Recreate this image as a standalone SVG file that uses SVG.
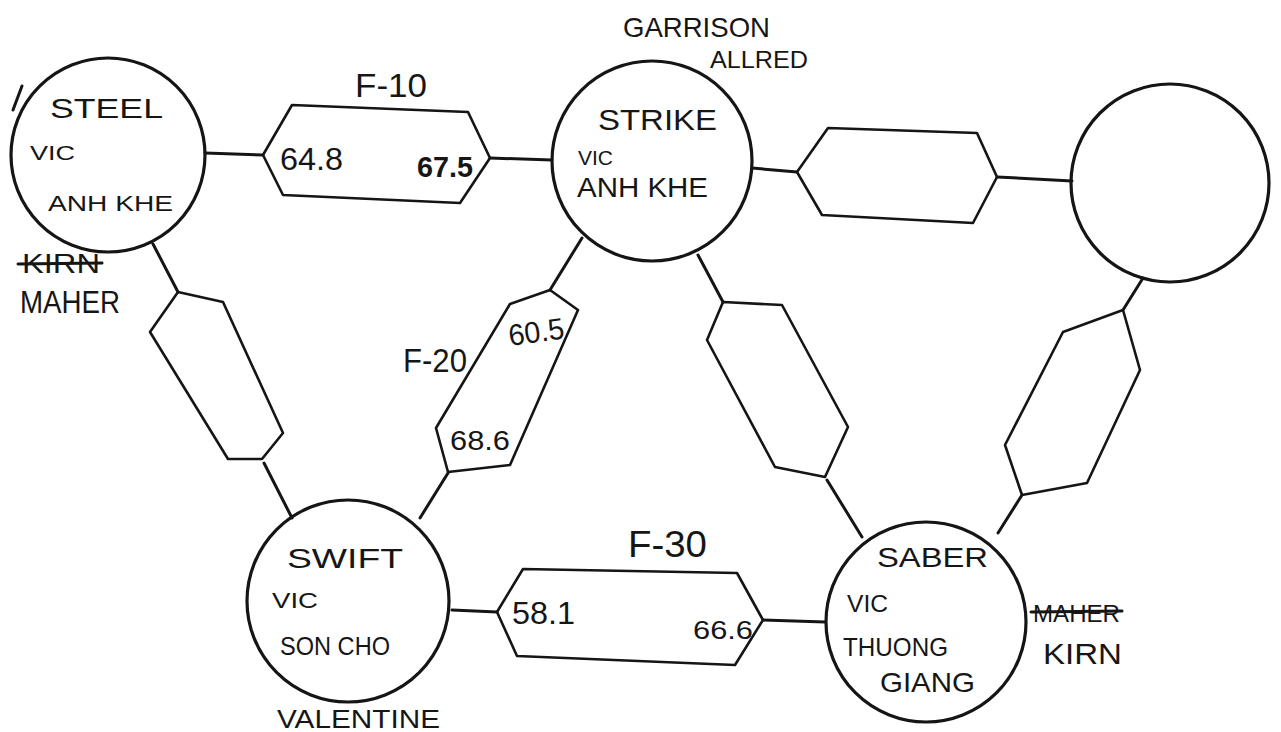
<svg xmlns="http://www.w3.org/2000/svg" width="1281" height="732" viewBox="0 0 1281 732">
<style>
.c{fill:none;stroke:#151515;stroke-width:3.2;}
.h{fill:none;stroke:#151515;stroke-width:2.6;stroke-linejoin:round;}
.l{stroke:#151515;stroke-width:3;stroke-linecap:round;}
.t{font-family:"Liberation Sans","DejaVu Sans",sans-serif;fill:#161616;}
.k{stroke:#161616;stroke-width:3;stroke-linecap:round;}
</style>
<rect width="1281" height="732" fill="#ffffff"/>
<g id="connectors">
<line class="l" x1="205" y1="153" x2="263" y2="155"/>
<line class="l" x1="490" y1="158" x2="552" y2="160"/>
<line class="l" x1="752" y1="168" x2="797" y2="172"/>
<line class="l" x1="997" y1="177" x2="1072" y2="181"/>
<line class="l" x1="153" y1="244" x2="178" y2="292"/>
<line class="l" x1="264" y1="463" x2="292" y2="518"/>
<line class="l" x1="582" y1="238" x2="550" y2="290"/>
<line class="l" x1="448" y1="473" x2="420" y2="518"/>
<line class="l" x1="698" y1="255" x2="723" y2="302"/>
<line class="l" x1="827" y1="480" x2="862" y2="537"/>
<line class="l" x1="1143" y1="278" x2="1123" y2="310"/>
<line class="l" x1="1022" y1="495" x2="998" y2="533"/>
<line class="l" x1="452" y1="610" x2="497" y2="612"/>
<line class="l" x1="763" y1="620" x2="825" y2="622"/>
</g>
<g id="link-f10">
<polygon class="h" points="263,155 292,105 468,112 490,158 460,203 283,195"/>
<text class="t" x="355" y="97" font-size="34" textLength="72" lengthAdjust="spacingAndGlyphs">F-10</text>
<text class="t" x="280" y="170" font-size="32" textLength="63" lengthAdjust="spacingAndGlyphs">64.8</text>
<text class="t" x="417" y="177" font-size="30" font-weight="bold" textLength="56" lengthAdjust="spacingAndGlyphs">67.5</text>
</g>
<g id="link-strike-east">
<polygon class="h" points="797,172 828,128 977,133 997,177 973,223 822,215"/>
</g>
<g id="link-steel-swift">
<polygon class="h" points="178,292 223,302 283,433 262,459 228,459 150,332"/>
</g>
<g id="link-f20">
<polygon class="h" points="550,290 578,310 510,465 448,472 436,428 510,304"/>
<text class="t" x="403" y="372" font-size="34" textLength="64" lengthAdjust="spacingAndGlyphs">F-20</text>
<text class="t" x="510" y="346" font-size="30" textLength="56" lengthAdjust="spacingAndGlyphs" transform="rotate(-8 510 346)">60.5</text>
<text class="t" x="450" y="450" font-size="28" textLength="60" lengthAdjust="spacingAndGlyphs">68.6</text>
</g>
<g id="link-strike-saber">
<polygon class="h" points="723,302 782,305 848,427 825,477 775,467 707,340"/>
</g>
<g id="link-east-saber">
<polygon class="h" points="1123,310 1140,370 1087,483 1022,495 1005,445 1063,332"/>
</g>
<g id="link-f30">
<polygon class="h" points="497,612 523,569 737,573 763,620 735,665 517,656"/>
<text class="t" x="628" y="557" font-size="36" textLength="79" lengthAdjust="spacingAndGlyphs">F-30</text>
<text class="t" x="512" y="624" font-size="32" textLength="63" lengthAdjust="spacingAndGlyphs">58.1</text>
<text class="t" x="693" y="639" font-size="26" textLength="60" lengthAdjust="spacingAndGlyphs">66.6</text>
</g>
<g id="node-steel">
<circle class="c" cx="108" cy="155" r="97"/>
<line class="k" x1="13" y1="110" x2="22" y2="86"/>
<text class="t" x="50" y="118" font-size="27" textLength="113" lengthAdjust="spacingAndGlyphs">STEEL</text>
<text class="t" x="30" y="160" font-size="21" textLength="45" lengthAdjust="spacingAndGlyphs">VIC</text>
<text class="t" x="48" y="211" font-size="22" textLength="125" lengthAdjust="spacingAndGlyphs">ANH KHE</text>
<text class="t" x="22" y="273" font-size="28" textLength="78" lengthAdjust="spacingAndGlyphs">KIRN</text>
<line class="k" x1="18" y1="264" x2="102" y2="263"/>
<text class="t" x="20" y="313" font-size="31" textLength="100" lengthAdjust="spacingAndGlyphs">MAHER</text>
</g>
<g id="node-strike">
<circle class="c" cx="652" cy="161" r="100"/>
<text class="t" x="623" y="37" font-size="28" textLength="147" lengthAdjust="spacingAndGlyphs">GARRISON</text>
<text class="t" x="710" y="68" font-size="24" textLength="98" lengthAdjust="spacingAndGlyphs">ALLRED</text>
<text class="t" x="598" y="130" font-size="29" textLength="119" lengthAdjust="spacingAndGlyphs">STRIKE</text>
<text class="t" x="578" y="165" font-size="20" textLength="35" lengthAdjust="spacingAndGlyphs">VIC</text>
<text class="t" x="577" y="197" font-size="27" textLength="131" lengthAdjust="spacingAndGlyphs">ANH KHE</text>
</g>
<g id="node-east">
<circle class="c" cx="1170" cy="183" r="99"/>
</g>
<g id="node-swift">
<circle class="c" cx="348" cy="601" r="101"/>
<text class="t" x="287" y="568" font-size="28" textLength="116" lengthAdjust="spacingAndGlyphs">SWIFT</text>
<text class="t" x="272" y="608" font-size="22" textLength="46" lengthAdjust="spacingAndGlyphs">VIC</text>
<text class="t" x="280" y="655" font-size="25" textLength="110" lengthAdjust="spacingAndGlyphs">SON CHO</text>
<text class="t" x="277" y="728" font-size="26" textLength="163" lengthAdjust="spacingAndGlyphs">VALENTINE</text>
</g>
<g id="node-saber">
<circle class="c" cx="926" cy="622" r="100"/>
<text class="t" x="877" y="567" font-size="27" textLength="111" lengthAdjust="spacingAndGlyphs">SABER</text>
<text class="t" x="847" y="612" font-size="23" textLength="41" lengthAdjust="spacingAndGlyphs">VIC</text>
<text class="t" x="843" y="656" font-size="26" textLength="105" lengthAdjust="spacingAndGlyphs">THUONG</text>
<text class="t" x="880" y="692" font-size="28" textLength="95" lengthAdjust="spacingAndGlyphs">GIANG</text>
<text class="t" x="1033" y="622" font-size="24" textLength="87" lengthAdjust="spacingAndGlyphs">MAHER</text>
<line class="k" x1="1031" y1="612" x2="1122" y2="611"/>
<text class="t" x="1043" y="664" font-size="29" textLength="79" lengthAdjust="spacingAndGlyphs">KIRN</text>
</g>
</svg>
